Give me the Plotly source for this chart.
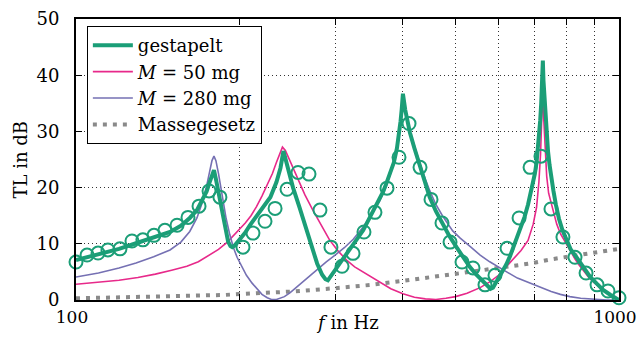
import plotly.graph_objects as go

GREEN = "#1b9e77"
PINK = "#e7298a"
PURPLE = "#7570b3"
GRAY = "#8a8a8a"

# gestapelt (thick green line)
f_stack = [100, 106, 112, 120, 129, 139, 149, 156, 162, 167, 171, 174, 176, 178, 179.5,
           181, 182.7, 184.7, 186.6, 188.6, 190.6, 192.5, 194, 196, 198, 200, 205, 209,
           218, 228, 234, 238, 241, 244, 248, 251, 258, 266, 272, 278, 284, 288, 291,
           295, 300, 306, 313, 320, 330, 338, 348, 356, 362, 368, 373, 380, 385, 390,
           393, 396, 398, 400, 404, 408, 412, 420, 430, 440, 448, 460, 473, 487, 502,
           516, 531, 545, 555, 565, 575, 580, 586, 593, 600, 610, 620, 630, 640, 650,
           660, 670, 680, 688, 694, 700, 705, 710, 713, 716, 719, 722, 724, 726, 730,
           733, 736, 740, 745, 750, 757, 765, 775, 787, 800, 815, 835, 860, 885, 910,
           935, 965, 1000]
tl_stack = [7.1, 7.7, 8.3, 9.1, 10.1, 11.1, 12.1, 13.2, 14.6, 16.0, 17.8, 19.3, 20.8, 22.3, 23.1,
            21.5, 19.5, 17.0, 14.7, 12.3, 10.4, 9.6, 9.4, 9.7, 10.2, 10.7, 12.0, 13.3,
            15.7, 18.3, 21.0, 23.5, 26.5, 24.5, 21.8, 20.0, 16.5, 12.4, 9.3, 6.5, 4.5, 3.7, 3.5,
            4.2, 5.3, 6.5, 7.9, 9.3, 11.0, 12.4, 14.8, 16.5, 17.8, 19.3, 20.8, 22.8, 24.5, 27.0,
            29.0, 31.8, 34.0, 36.7, 33.8, 31.5, 29.8, 27.0, 23.6, 20.4, 18.3, 15.8, 13.6, 11.4, 9.4,
            7.6, 5.9, 4.6, 3.8, 2.9, 2.2, 2.0, 2.2, 3.0, 3.8, 5.0, 6.3, 7.8, 9.5, 11.1,
            12.8, 14.8, 17.0, 19.0, 20.8, 22.5, 24.5, 27.5, 29.6, 32.0, 35.0, 39.0, 42.6, 39.0, 34.5,
            32.0, 29.6, 26.5, 24.0, 21.8, 19.5, 17.0, 14.5, 12.4, 10.7, 9.0, 7.6, 5.7, 4.1, 2.9,
            1.8, 0.9, 0.0]

# M = 50 mg (pink)
f_m50 = [100, 110, 120, 130, 140, 150, 160, 168, 175, 183, 190, 195, 200, 205, 210, 215,
         220, 225, 230, 234, 237, 240, 243, 247, 252, 258, 264, 273, 283, 293, 304, 315,
         326, 338, 350, 362, 380, 400, 420, 440, 460, 480, 500, 525, 555, 580, 600, 621,
         640, 660, 680, 695, 705, 712, 717, 721, 724, 727, 731, 736, 742, 750, 757, 768,
         780, 800, 815, 830, 845, 860, 880, 900, 923, 945, 970, 1000]
tl_m50 = [2.8, 3.1, 3.5, 4.0, 4.6, 5.3, 6.0, 6.8, 7.8, 9.0, 10.3, 11.4, 12.5, 13.7, 15.0, 16.6,
          18.5, 20.5, 22.5, 24.5, 26.0, 27.2, 26.6, 25.0, 23.0, 20.8, 18.7, 16.0, 13.3, 10.7, 8.7, 7.1,
          5.9, 5.0, 4.1, 3.3, 2.0, 1.1, 0.5, 0.2, 0.1, 0.3, 0.6, 1.2, 2.2, 3.3, 4.4, 6.0,
          7.3, 8.8, 10.6, 13.5, 16.5, 21.0, 26.0, 32.0, 38.0, 32.0, 26.0, 22.0, 19.0, 17.2, 15.8, 13.5,
          11.8, 10.0, 8.5, 7.3, 6.2, 5.2, 4.0, 3.1, 2.2, 1.5, 0.8, 0.1]

# M = 280 mg (purple)
f_m280 = [100, 110, 120, 129, 139, 149, 156, 162, 167, 171, 174, 176, 178, 179.5, 181, 183,
          185, 187, 189, 192, 195, 198, 202, 206, 211, 216, 220, 225, 229, 234, 238, 242,
          248, 255, 261, 267, 278, 289, 300, 312, 324, 338, 350, 362, 373, 382, 390, 395,
          400, 404, 408, 412, 420, 430, 440, 448, 460, 473, 494, 510, 531, 555, 578, 600,
          621, 650, 686, 720, 750, 780, 812, 850, 900, 950, 1000]
tl_m280 = [4.1, 4.8, 5.7, 6.6, 7.7, 8.9, 10.3, 12.2, 14.6, 17.5, 20.3, 22.5, 24.8, 25.6, 24.8, 22.5,
           19.8, 17.0, 14.5, 11.6, 9.3, 7.6, 5.9, 4.4, 3.0, 1.8, 1.0, 0.4, 0.1, 0.1, 0.3, 0.6,
           1.3, 2.3, 3.2, 4.1, 5.5, 6.8, 8.0, 9.3, 10.8, 13.0, 15.2, 17.5, 20.3, 23.3, 27.0, 30.5,
           36.0, 33.5, 31.5, 30.0, 27.3, 24.3, 21.5, 19.5, 17.0, 15.0, 12.3, 11.0, 9.6, 8.0, 6.8, 5.8,
           5.0, 3.9, 3.0, 2.2, 1.5, 1.0, 0.6, 0.3, 0.1, 0.0, 0.0]

# Massegesetz (gray dotted)
f_mass = [100, 150, 188, 200, 250, 300, 350, 400, 450, 500, 550, 600, 686, 757, 850, 1000]
tl_mass = [0.3, 0.6, 0.9, 1.06, 1.5, 2.1, 2.7, 3.4, 4.0, 4.7, 5.2, 5.7, 6.5, 7.3, 8.1, 9.1]

# measured values (green circles)
f_meas = [100, 104.8, 109.8, 114.5, 120.5, 126.8, 132.8, 139.2, 145.8, 153.5, 160.8, 168.5,
          175.8, 184.1, 203, 211.8, 222.9, 232.6, 244.7, 256.4, 268.6, 281.4, 294.8, 309,
          323.7, 339.1, 355.3, 373.9, 393.4, 410.5, 430.1, 450.6, 472.1, 488.5, 513.9, 538.4,
          566.5, 591, 622, 654.6, 685.8, 718.3, 749.4, 788.4, 829.8, 869.6, 911, 954.4, 1000]
tl_meas = [6.75, 8.0, 8.35, 8.9, 9.1, 10.5, 10.7, 11.5, 12.4, 13.3, 14.7, 16.7,
           19.4, 18.3, 9.4, 11.9, 14.0, 16.3, 19.7, 22.7, 22.4, 16.0, 9.4, 6.0,
           8.3, 12.1, 15.6, 19.9, 25.4, 31.4, 23.6, 17.9, 13.7, 10.3, 6.75, 5.7,
           2.7, 4.4, 9.2, 14.6, 23.6, 25.6, 16.2, 11.2, 7.6, 4.8, 2.7, 1.6, 0.4]

x_tickvals = [100, 200, 300, 400, 500, 600, 700, 800, 900, 1000]
x_ticktext = ["100", "", "", "", "", "", "", "", "", "1000"]
y_tickvals = [0, 10, 20, 30, 40, 50]

FONT = "DejaVu Serif"
FS = 18

fig = go.Figure()
fig.add_trace(go.Scatter(x=f_mass, y=tl_mass, mode="lines", name="Massegesetz",
                         line=dict(color=GRAY, width=4, dash="4px,6px"), legendrank=4))
fig.add_trace(go.Scatter(x=f_m50, y=tl_m50, mode="lines", name="<i>M</i> = 50 mg",
                         line=dict(color=PINK, width=1.6), legendrank=2))
fig.add_trace(go.Scatter(x=f_m280, y=tl_m280, mode="lines", name="<i>M</i> = 280 mg",
                         line=dict(color=PURPLE, width=1.6), legendrank=3))
fig.add_trace(go.Scatter(x=f_stack, y=tl_stack, mode="lines", name="gestapelt",
                         line=dict(color=GREEN, width=4), legendrank=1))
fig.add_trace(go.Scatter(x=f_meas, y=tl_meas, mode="markers", showlegend=False,
                         marker=dict(symbol="circle-open", size=13, color=GREEN,
                                     line=dict(width=2, color=GREEN)),
                         cliponaxis=False))

axis_common = dict(showline=True, linecolor="black", linewidth=2, mirror="allticks",
                   ticks="inside", ticklen=6, tickwidth=1.3, tickcolor="black",
                   showgrid=True, gridcolor="#333333", gridwidth=1, griddash="1px,3px",
                   zeroline=False, automargin=False, ticklabeloverflow="allow")

fig.update_xaxes(type="log", range=[2, 3], tickvals=x_tickvals, ticktext=x_ticktext,
                 ticklabelstandoff=1, ticklabelshift=-4,
                 tickfont=dict(family=FONT, size=17, color="black"), **axis_common)
fig.update_yaxes(range=[0, 50], tickvals=y_tickvals, ticklabelstandoff=11,
                 tickfont=dict(family=FONT, size=FS, color="black"), **axis_common)

fig.update_layout(
    width=640, height=338,
    margin=dict(l=76, r=21, t=19, b=38, autoexpand=False),
    paper_bgcolor="white", plot_bgcolor="white",
    font=dict(family=FONT, size=FS, color="black"),
    showlegend=True,
    legend=dict(x=0.02, y=0.975, xanchor="left", yanchor="top",
                bgcolor="white", bordercolor="black", borderwidth=1,
                font=dict(family=FONT, size=FS, color="black"),
                tracegroupgap=0, itemwidth=40),
    annotations=[
        dict(text="<i>f</i> in Hz", xref="paper", yref="paper", x=0.5, y=0,
             xanchor="center", yanchor="top", yshift=-10, showarrow=False,
             font=dict(family=FONT, size=FS, color="black")),
        dict(text="TL in dB", xref="paper", yref="paper", x=0, y=0.5,
             xanchor="center", yanchor="middle", xshift=-56, textangle=-90, showarrow=False,
             font=dict(family=FONT, size=FS, color="black")),
    ],
)

fig.write_html("out.html", config={"displayModeBar": False},
               post_script="document.body.style.margin='0px';")
